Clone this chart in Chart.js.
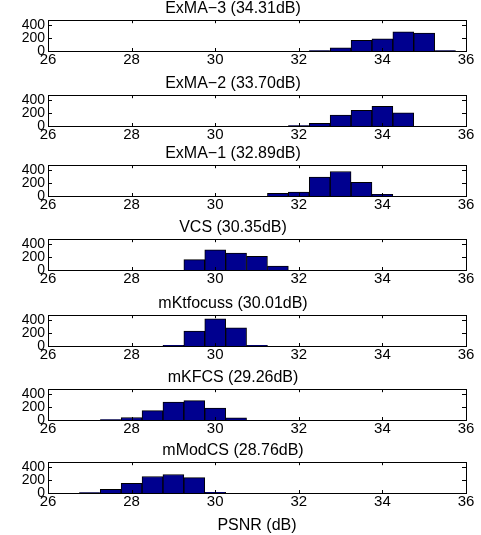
<!DOCTYPE html>
<html>
<head>
<meta charset="utf-8">
<script src="https://cdn.jsdelivr.net/npm/chart.js@4.4.0/dist/chart.umd.min.js"></script>
<style>
  body { margin: 0; background: #fff; }
  #fig { position: relative; width: 481px; height: 535px; }
  #fig canvas { position: absolute; left: 0; }
</style>
</head>
<body>
<div id="fig"></div>
<script>
// tick labels shared by every subplot
const xTicks = [26, 28, 30, 32, 34, 36];
const yTicks = [0, 200, 400];

// subplot titles, top to bottom
const titles = [
    'ExMA\u22123 (34.31dB)',
    'ExMA\u22122 (33.70dB)',
    'ExMA\u22121 (32.89dB)',
    'VCS (30.35dB)',
    'mKtfocuss (30.01dB)',
    'mKFCS (29.26dB)',
    'mModCS (28.76dB)'
];

// histogram bin centres (PSNR, dB) and counts per method
const exma3Bins   = [32.5, 33, 33.5, 34, 34.5, 35, 35.5];
const exma3Counts = [8, 50, 165, 188, 295, 275, 8];

const exma2Bins   = [32, 32.5, 33, 33.5, 34, 34.5];
const exma2Counts = [5, 42, 167, 240, 305, 205];

const exma1Bins   = [31.5, 32, 32.5, 33, 33.5, 34];
const exma1Counts = [42, 60, 292, 378, 212, 25];

const vcsBins   = [29.5, 30, 30.5, 31, 31.5];
const vcsCounts = [160, 312, 262, 210, 60];

const mktBins   = [29, 29.5, 30, 30.5, 31];
const mktCounts = [12, 232, 420, 282, 10];

const mkfcsBins   = [27.5, 28, 28.5, 29, 29.5, 30, 30.5];
const mkfcsCounts = [5, 38, 145, 275, 298, 183, 34];

const mmodBins   = [27, 27.5, 28, 28.5, 29, 29.5, 30];
const mmodCounts = [6, 58, 150, 255, 285, 236, 12];

const allBins   = [exma3Bins, exma2Bins, exma1Bins, vcsBins, mktBins, mkfcsBins, mmodBins];
const allCounts = [exma3Counts, exma2Counts, exma1Counts, vcsCounts, mktCounts, mkfcsCounts, mmodCounts];

const FONT = "'Liberation Sans', Arial, sans-serif";
const TITLE_H = 21;
const PLOT_H = 31;
const plotTops = [20, 95, 165, 239, 315, 389, 462];

// matlab style box with inward ticks
const boxTicks = {
    id: 'boxTicks',
    afterDraw(chart) {
        const { ctx, chartArea: a, scales } = chart;
        ctx.save();
        ctx.strokeStyle = '#000';
        ctx.lineWidth = 1;
        ctx.beginPath();
        xTicks.forEach(v => {
            const px = Math.round(scales.x.getPixelForValue(v)) + 0.5;
            ctx.moveTo(px, a.bottom); ctx.lineTo(px, a.bottom - 3);
            ctx.moveTo(px, a.top);    ctx.lineTo(px, a.top + 3);
        });
        yTicks.forEach(v => {
            const py = Math.round(scales.y.getPixelForValue(v)) + 0.5;
            ctx.moveTo(a.left, py);  ctx.lineTo(a.left + 4, py);
            ctx.moveTo(a.right, py); ctx.lineTo(a.right - 4, py);
        });
        ctx.stroke();
        ctx.strokeRect(Math.round(a.left) + 0.5, Math.round(a.top) + 0.5,
                       Math.round(a.right - a.left), Math.round(a.bottom - a.top));
        ctx.restore();
    }
};

const fig = document.getElementById('fig');

titles.forEach((t, i) => {
    const last = i === titles.length - 1;
    const xAxisH = last ? 42 : 20;
    const cv = document.createElement('canvas');
    cv.width = 481;
    cv.height = TITLE_H + PLOT_H + xAxisH;
    cv.style.top = (plotTops[i] - TITLE_H) + 'px';
    fig.appendChild(cv);

    new Chart(cv, {
        type: 'bar',
        data: {
            datasets: [{
                data: allBins[i].map((b, j) => ({ x: b, y: allCounts[i][j] })),
                backgroundColor: '#00008f',
                borderColor: '#000',
                borderWidth: 1,
                barPercentage: 1,
                categoryPercentage: 1
            }]
        },
        options: {
            responsive: false,
            animation: false,
            layout: { padding: { left: 0, right: 15, top: 0, bottom: 0 } },
            plugins: {
                legend: { display: false },
                tooltip: { enabled: false },
                title: {
                    display: true,
                    text: t,
                    color: '#000',
                    font: { family: FONT, size: 16, weight: 'normal' },
                    padding: { top: 0, bottom: 2 }
                }
            },
            scales: {
                x: {
                    type: 'linear',
                    min: 26, max: 36,
                    offset: false,
                    grid: { display: false, drawTicks: false, offset: false },
                    border: { display: false },
                    afterBuildTicks: s => { s.ticks = xTicks.map(v => ({ value: v })); },
                    afterFit: s => { s.height = xAxisH; },
                    ticks: {
                        color: '#000', padding: 1, maxRotation: 0, autoSkip: false,
                        font: { family: FONT, size: 15, lineHeight: 1.1 }
                    },
                    title: {
                        display: last,
                        text: 'PSNR (dB)',
                        color: '#000',
                        font: { family: FONT, size: 16 },
                        padding: { top: 1, bottom: 0 }
                    }
                },
                y: {
                    min: 0, max: 475,
                    grid: { display: false, drawTicks: false },
                    border: { display: false },
                    afterBuildTicks: s => { s.ticks = yTicks.map(v => ({ value: v })); },
                    afterFit: s => { s.width = 48; },
                    ticks: {
                        color: '#000', padding: 3, autoSkip: false,
                        font: { family: FONT, size: 14, lineHeight: 1 }
                    }
                }
            }
        },
        plugins: [boxTicks]
    });
});
</script>
</body>
</html>
